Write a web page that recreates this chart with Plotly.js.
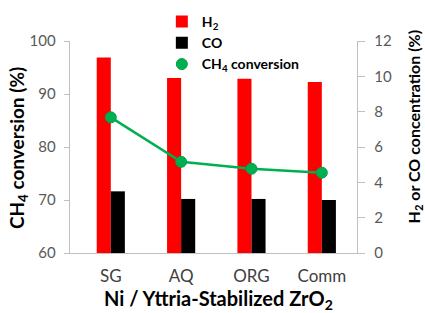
<!DOCTYPE html>
<html>
<head>
<meta charset="utf-8">
<script src="https://cdn.plot.ly/plotly-3.0.1.min.js"></script>
<style>html,body{margin:0;padding:0;background:#fff;}#chart{width:425px;height:313px;}</style>
</head>
<body>
<div id="chart"></div>
<script>
const categories = ['SG', 'AQ', 'ORG', 'Comm'];
const h2Concentration = [11.07, 9.9, 9.87, 9.68];
const coConcentration = [3.49, 3.06, 3.06, 3.0];
const ch4Conversion = [85.6, 77.2, 75.9, 75.15];
const leftTicks = [60, 70, 80, 90, 100];
const rightTicks = [0, 2, 4, 6, 8, 10, 12];

const FONT = 'Lato, "Liberation Sans", sans-serif';
const green = '#00b050';

const traces = [
  {type: 'bar', name: 'H<sub>2</sub>', x: categories, y: h2Concentration, yaxis: 'y',
   marker: {color: '#ff0000', line: {width: 0}}},
  {type: 'bar', name: 'CO', x: categories, y: coConcentration, yaxis: 'y',
   marker: {color: '#000000', line: {width: 0}}},
  {type: 'scatter', mode: 'lines', x: categories, y: ch4Conversion, yaxis: 'y2',
   line: {color: green, width: 2.5}, showlegend: false, hoverinfo: 'skip'},
  {type: 'scatter', mode: 'markers', name: 'CH<sub>4</sub> conversion', x: categories, y: ch4Conversion, yaxis: 'y2',
   marker: {color: green, size: 11, line: {color: '#00a048', width: 1}}}
];

const layout = {
  width: 425, height: 313,
  margin: {l: 70, r: 68, t: 41, b: 60, pad: 0, autoexpand: false},
  paper_bgcolor: '#ffffff', plot_bgcolor: 'rgba(0,0,0,0)',
  font: {family: FONT, color: '#595959'},
  barmode: 'group', bargap: 0.6, bargroupgap: 0,
  showlegend: true,
  legend: {x: 0.32, xanchor: 'left', y: 1.165, yanchor: 'top', bgcolor: 'rgba(0,0,0,0)',
           font: {family: FONT, size: 14, color: '#000000', weight: 'bold'},
           itemwidth: 30, tracegroupgap: 0, traceorder: 'normal'},
  xaxis: {
    type: 'category', range: [-0.58, 3.5], fixedrange: true,
    showline: true, linecolor: '#bfbfbf', linewidth: 1.3, ticks: '', showgrid: false, zeroline: false,
    ticklabelstandoff: 7,
    tickfont: {family: FONT, size: 17, color: '#404040'}
  },
  yaxis: {
    side: 'right', range: [0, 12], tickvals: rightTicks, ticktext: rightTicks.map(String),
    showline: true, linecolor: '#bfbfbf', linewidth: 1.3, ticks: 'outside', ticklen: 7, tickcolor: '#bfbfbf',
    showgrid: false, zeroline: false, ticklabelstandoff: 6,
    tickfont: {family: FONT, size: 15, color: '#595959'}
  },
  yaxis2: {
    side: 'left', overlaying: 'y', range: [60, 100], tickvals: leftTicks, ticktext: leftTicks.map(String),
    showline: true, linecolor: '#bfbfbf', linewidth: 1.3, ticks: 'outside', ticklen: 5, tickcolor: '#bfbfbf',
    showgrid: false, zeroline: false, ticklabelstandoff: 5,
    tickfont: {family: FONT, size: 15, color: '#595959'}
  },
  annotations: [
    {text: 'Ni / Yttria-Stabilized ZrO<sub>2</sub>', xref: 'paper', yref: 'paper', x: 0.517, y: -0.221,
     xanchor: 'center', yanchor: 'middle', showarrow: false,
     font: {family: FONT, size: 20, color: '#000000', weight: 'bold'}},
    {text: 'CH<sub>4</sub> conversion (%)', xref: 'paper', yref: 'paper', x: -0.179, y: 0.493,
     xanchor: 'center', yanchor: 'middle', textangle: -90, showarrow: false,
     font: {family: FONT, size: 19, color: '#000000', weight: 'bold'}},
    {text: 'H<sub>2</sub> or CO concentration (%)', xref: 'paper', yref: 'paper', x: 1.1986, y: 0.597,
     xanchor: 'center', yanchor: 'middle', textangle: -90, showarrow: false,
     font: {family: FONT, size: 16, color: '#000000', weight: 'bold'}}
  ]
};

Plotly.newPlot('chart', traces, layout, {displayModeBar: false, staticPlot: true});
</script>
</body>
</html>
